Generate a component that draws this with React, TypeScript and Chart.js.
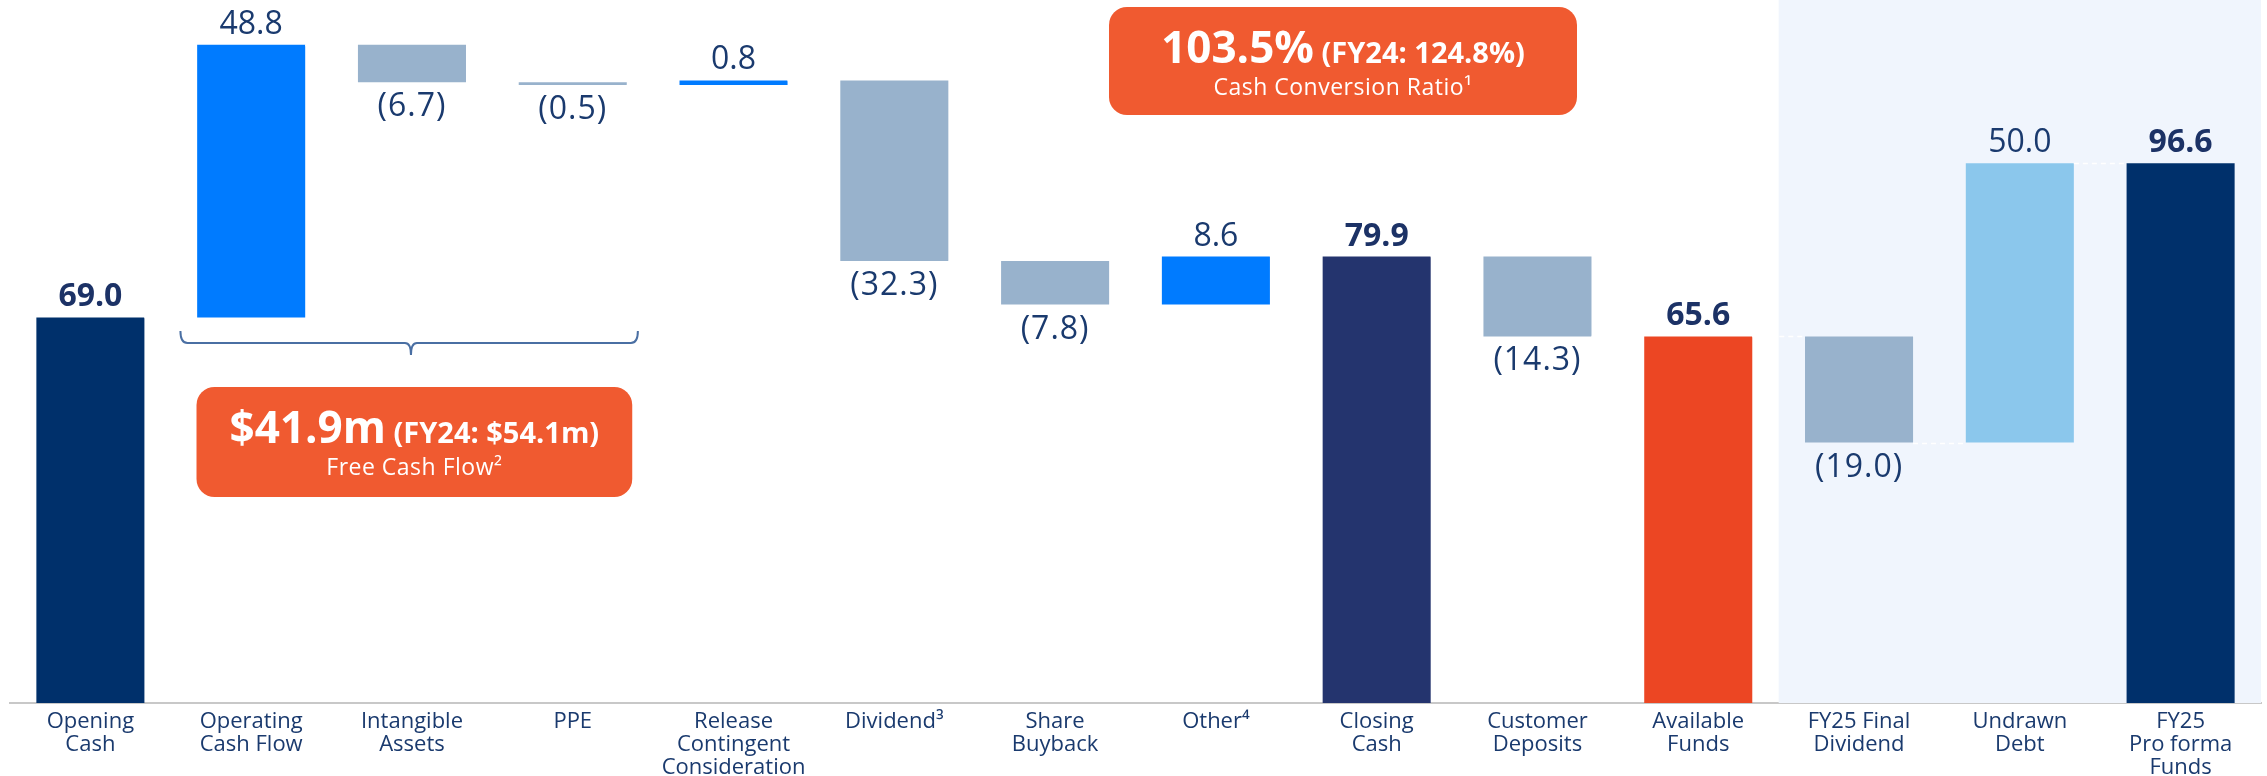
import React, { useEffect, useRef } from 'react';
import { Chart, registerables } from 'chart.js';

Chart.register(...registerables);

const categories: string[][] = [
  ['Opening', 'Cash'],
  ['Operating', 'Cash Flow'],
  ['Intangible', 'Assets'],
  ['PPE'],
  ['Release', 'Contingent', 'Consideration'],
  ['Dividend³'],
  ['Share', 'Buyback'],
  ['Other⁴'],
  ['Closing', 'Cash'],
  ['Customer', 'Deposits'],
  ['Available', 'Funds'],
  ['FY25 Final', 'Dividend'],
  ['Undrawn', 'Debt'],
  ['FY25', 'Pro forma', 'Funds'],
];

const values: number[] = [69.0, 48.8, -6.7, -0.5, 0.8, -32.3, -7.8, 8.6, 79.9, -14.3, 65.6, -19.0, 50.0, 96.6];
const isTotal: boolean[] = [true, false, false, false, false, false, false, false, true, false, true, false, false, true];
const barColors: string[] = [
  '#00306b', '#007bff', '#98b2cc', '#98b2cc', '#007bff', '#98b2cc', '#98b2cc',
  '#007bff', '#24346e', '#98b2cc', '#ec4623', '#98b2cc', '#8bc7ec', '#00306b',
];

const FONT = '"Open Sans", "Noto Sans", sans-serif';
const LABEL_COLOR = '#1a3a6e';
const BOLD_COLOR = '#1c3266';
const BOX_COLOR = '#f05a30';

function buildRanges(): [number, number][] {
  let running = 0;
  return values.map((v, i) => {
    if (isTotal[i]) {
      running = v;
      return [0, v] as [number, number];
    }
    const start = running;
    running = Math.round((running + v) * 10) / 10;
    return [start, running] as [number, number];
  });
}

function fmt(v: number): string {
  return v < 0 ? `(${Math.abs(v).toFixed(1)})` : v.toFixed(1);
}

const shadePlugin = {
  id: 'shade',
  beforeDatasetsDraw(chart: any) {
    const { ctx, chartArea, scales } = chart;
    const x = scales.x;
    const left = (x.getPixelForValue(10) + x.getPixelForValue(11)) / 2;
    ctx.save();
    ctx.fillStyle = '#f0f5fd';
    ctx.fillRect(left, 0, chartArea.right - left, chartArea.bottom);
    ctx.restore();
  },
};

const connectorPlugin = {
  id: 'connectors',
  afterDatasetsDraw(chart: any) {
    const { ctx } = chart;
    const meta = chart.getDatasetMeta(0);
    const ranges = chart.data.datasets[0].data as [number, number][];
    const y = chart.scales.y;
    ctx.save();
    ctx.strokeStyle = '#ffffff';
    ctx.lineWidth = 1.5;
    ctx.setLineDash([5, 4]);
    for (let i = 0; i < ranges.length - 1; i++) {
      const level = ranges[i][1];
      const a = meta.data[i];
      const b = meta.data[i + 1];
      const py = Math.round(y.getPixelForValue(level)) + 0.5;
      ctx.beginPath();
      ctx.moveTo(a.x + a.width / 2, py);
      ctx.lineTo(b.x - b.width / 2, py);
      ctx.stroke();
    }
    ctx.restore();
  },
};

const valueLabelPlugin = {
  id: 'valueLabels',
  afterDatasetsDraw(chart: any) {
    const { ctx } = chart;
    const meta = chart.getDatasetMeta(0);
    const ranges = chart.data.datasets[0].data as [number, number][];
    const y = chart.scales.y;
    ctx.save();
    ctx.textAlign = 'center';
    ctx.textBaseline = 'alphabetic';
    values.forEach((v, i) => {
      const bar = meta.data[i];
      const [s, e] = ranges[i];
      const top = y.getPixelForValue(Math.max(s, e));
      const bottom = y.getPixelForValue(Math.min(s, e));
      ctx.font = `${isTotal[i] ? 'bold ' : ''}32px ${FONT}`;
      ctx.fillStyle = isTotal[i] ? BOLD_COLOR : LABEL_COLOR;
      if (v < 0) {
        (ctx as any).letterSpacing = '1px';
        ctx.fillText(fmt(v), bar.x, bottom + 34);
        (ctx as any).letterSpacing = '0px';
      } else {
        ctx.fillText(fmt(v), bar.x, top - 11);
      }
    });
    ctx.restore();
  },
};

function drawMixed(ctx: CanvasRenderingContext2D, cx: number, baseline: number, big: string, small: string) {
  ctx.font = `bold 44px ${FONT}`;
  const w1 = ctx.measureText(big).width;
  ctx.font = `bold 29px ${FONT}`;
  const w2 = ctx.measureText(small).width;
  const total = w1 + w2;
  let x = cx - total / 2;
  ctx.textAlign = 'left';
  ctx.font = `bold 44px ${FONT}`;
  ctx.fillText(big, x, baseline);
  x += w1;
  ctx.font = `bold 29px ${FONT}`;
  ctx.fillText(small, x, baseline);
}

const annotationPlugin = {
  id: 'annotations',
  afterDraw(chart: any) {
    const { ctx } = chart;
    const x = chart.scales.x;
    const step = x.getPixelForValue(1) - x.getPixelForValue(0);
    ctx.save();

    // Bracket under Operating Cash Flow .. PPE
    const bl = x.getPixelForValue(1) - 0.44 * step;
    const br = x.getPixelForValue(3) + 0.405 * step;
    const bm = x.getPixelForValue(2) - 1;
    const by = 343;
    ctx.strokeStyle = '#4a6fa3';
    ctx.lineWidth = 2;
    ctx.beginPath();
    ctx.moveTo(bl, by - 12);
    ctx.quadraticCurveTo(bl, by, bl + 7, by);
    ctx.lineTo(bm - 6, by);
    ctx.quadraticCurveTo(bm, by, bm, by + 12);
    ctx.quadraticCurveTo(bm, by, bm + 6, by);
    ctx.lineTo(br - 7, by);
    ctx.quadraticCurveTo(br, by, br, by - 12);
    ctx.stroke();

    // Free cash flow box
    const fl = x.getPixelForValue(1) - 0.34 * step;
    const fr = x.getPixelForValue(3) + 0.37 * step;
    ctx.fillStyle = BOX_COLOR;
    ctx.beginPath();
    (ctx as any).roundRect(fl, 387, fr - fl, 110, 18);
    ctx.fill();
    ctx.fillStyle = '#ffffff';
    ctx.textBaseline = 'alphabetic';
    drawMixed(ctx, (fl + fr) / 2, 443, '$41.9m', ' (FY24: $54.1m)');
    ctx.font = `23px ${FONT}`;
    (ctx as any).letterSpacing = '0.5px';
    ctx.textAlign = 'center';
    ctx.fillText('Free Cash Flow²', (fl + fr) / 2, 475);
    (ctx as any).letterSpacing = '0px';

    // Cash conversion ratio box
    const cl = 1109;
    const cr = 1577;
    ctx.fillStyle = BOX_COLOR;
    ctx.beginPath();
    (ctx as any).roundRect(cl, 7, cr - cl, 108, 18);
    ctx.fill();
    ctx.fillStyle = '#ffffff';
    drawMixed(ctx, (cl + cr) / 2, 63, '103.5%', ' (FY24: 124.8%)');
    ctx.font = `23px ${FONT}`;
    (ctx as any).letterSpacing = '0.5px';
    ctx.textAlign = 'center';
    ctx.fillText('Cash Conversion Ratio¹', (cl + cr) / 2, 95);
    (ctx as any).letterSpacing = '0px';

    ctx.restore();
  },
};

export default function App() {
  const canvasRef = useRef<HTMLCanvasElement | null>(null);

  useEffect(() => {
    const canvas = canvasRef.current;
    if (!canvas) return;
    const ranges = buildRanges();
    const chart = new Chart(canvas, {
      type: 'bar',
      data: {
        labels: categories,
        datasets: [
          {
            data: ranges as any,
            backgroundColor: barColors,
            borderWidth: 0,
            borderSkipped: false,
            categoryPercentage: 1,
            barPercentage: 0.672,
          },
        ],
      },
      options: {
        responsive: false,
        animation: false,
        layout: { padding: { left: 10, right: 6, top: 0, bottom: 0 } },
        plugins: {
          legend: { display: false },
          tooltip: { enabled: false },
          title: { display: false },
        },
        scales: {
          x: {
            grid: { display: false, drawTicks: false },
            border: { display: true, color: '#c8c8c8', width: 2 },
            ticks: {
              color: LABEL_COLOR,
              font: { family: FONT, size: 22, lineHeight: '23px' } as any,
              padding: 7,
              maxRotation: 0,
              autoSkip: false,
            },
            afterFit(scale: any) {
              scale.height = 73;
            },
          },
          y: {
            display: false,
            min: 0,
            max: 125.8,
          },
        },
      },
      plugins: [shadePlugin, connectorPlugin, valueLabelPlugin, annotationPlugin],
    });
    return () => chart.destroy();
  }, []);

  return (
    <div style={{ position: 'absolute', left: 0, top: 0, width: 2267, height: 776, background: '#ffffff' }}>
      <canvas ref={canvasRef} width={2267} height={776} style={{ display: 'block', width: 2267, height: 776 }} />
    </div>
  );
}
